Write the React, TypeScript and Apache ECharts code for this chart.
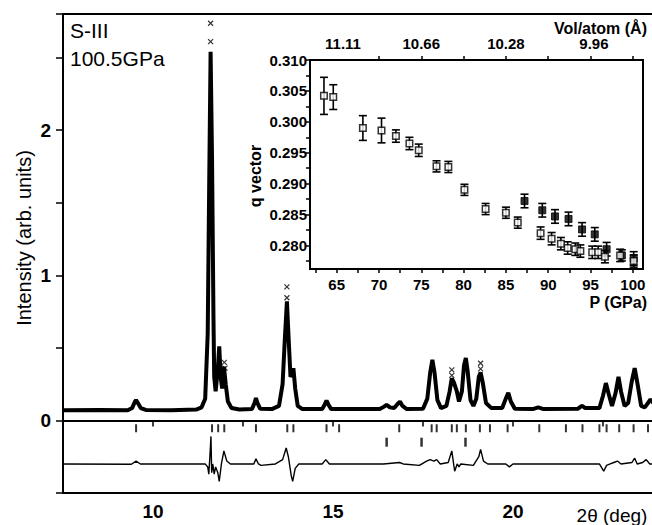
import React, { useEffect, useRef } from "react";
import * as echarts from "echarts";

// ---- Main pattern (2θ in degrees, intensity in arb. units) ----
const twoTheta = [
  7.5, 8.5, 9.3, 9.42, 9.5, 9.53, 9.58, 9.66, 9.8, 10.5, 11.2, 11.35, 11.45, 11.52, 11.56, 11.6, 11.64,
  11.68, 11.7, 11.74, 11.8, 11.84, 11.88, 11.92, 11.97, 12.02, 12.08, 12.18, 12.4, 12.75, 12.82, 12.86,
  12.9, 12.98, 13.3, 13.5, 13.6, 13.66, 13.72, 13.77, 13.82, 13.86, 13.9, 13.95, 14.02, 14.15, 14.7,
  14.77, 14.82, 14.87, 14.95, 16.3, 16.42, 16.49, 16.58, 16.7, 16.8, 16.86, 16.93, 17.05, 17.5, 17.62,
  17.7, 17.76, 17.82, 17.9, 18.0, 18.15, 18.24, 18.3, 18.36, 18.44, 18.5, 18.58, 18.64, 18.69, 18.74,
  18.82, 18.9, 18.98, 19.05, 19.1, 19.16, 19.25, 19.4, 19.7, 19.8, 19.87, 19.94, 20.05, 20.55, 20.7,
  20.85, 21.8, 21.88, 21.93, 22.0, 22.4, 22.5, 22.58, 22.66, 22.75, 22.85, 22.93, 23.0, 23.1, 23.2,
  23.3, 23.38, 23.46, 23.56, 23.66, 23.75, 23.82, 23.9, 24.0, 24.5,
];
const intensity = [
  0.07, 0.072, 0.07, 0.085, 0.13, 0.14, 0.12, 0.085, 0.072, 0.07, 0.075, 0.09, 0.15, 0.6, 1.6, 2.54, 1.8,
  0.7, 0.3, 0.2, 0.35, 0.51, 0.3, 0.22, 0.37, 0.25, 0.13, 0.085, 0.075, 0.078, 0.12, 0.154,
  0.12, 0.08, 0.078, 0.1, 0.25, 0.55, 0.82, 0.55, 0.3, 0.32, 0.36, 0.22, 0.1, 0.078, 0.078,
  0.11, 0.137, 0.11, 0.078, 0.078, 0.095, 0.108, 0.09, 0.085, 0.115, 0.13, 0.1, 0.078, 0.08, 0.15,
  0.33, 0.417, 0.33, 0.14, 0.085, 0.1, 0.2, 0.29, 0.26, 0.2, 0.13, 0.2, 0.38, 0.43, 0.34,
  0.14, 0.1, 0.15, 0.3, 0.33, 0.26, 0.12, 0.085, 0.085, 0.15, 0.19, 0.13, 0.08, 0.078, 0.09,
  0.078, 0.08, 0.095, 0.1, 0.085, 0.085, 0.17, 0.257, 0.18, 0.1, 0.19, 0.3, 0.2, 0.1, 0.12,
  0.27, 0.36, 0.25, 0.1, 0.09, 0.12, 0.145, 0.12, 0.09, 0.08,
];

// observed points standing clear above the fitted profile
const obsExtraTheta = [11.6, 11.6, 11.98, 12.0, 13.72, 13.72, 18.3, 18.3, 19.1, 19.1];
const obsExtraI = [2.736, 2.61, 0.4, 0.36, 0.92, 0.845, 0.348, 0.31, 0.394, 0.355];

// difference curve (offset)
const diffTheta = [
  7.5, 9.4, 9.53, 9.65, 11.45, 11.52, 11.55, 11.58, 11.61, 11.63, 11.66, 11.7, 11.74, 11.8, 11.84, 11.9,
  11.97, 12.05, 12.15, 12.8, 12.86, 12.93, 13.0, 13.4, 13.6, 13.7, 13.76, 13.84, 13.88, 13.95, 14.05,
  14.7, 14.8, 14.9, 15.5, 16.4, 16.85, 16.95, 17.4, 17.6, 17.7, 17.8, 17.88, 17.98, 18.2, 18.3, 18.38,
  18.45, 18.5, 18.55, 18.9, 19.05, 19.1, 19.18, 19.3, 19.8, 19.9, 20.0, 21.5, 22.4, 22.52, 22.6, 22.7,
  22.8, 22.9, 23.0, 23.3, 23.38, 23.45, 23.6, 23.7, 23.8, 24.5,
];
const diffI = [
  -0.3, -0.302, -0.28, -0.3, -0.3, -0.32, -0.37, -0.25, -0.11, -0.36, -0.3, -0.37, -0.32, -0.36, -0.42, -0.3,
  -0.21, -0.28, -0.3, -0.3, -0.265, -0.3, -0.31, -0.3, -0.27, -0.19, -0.25, -0.38, -0.42, -0.33, -0.3,
  -0.3, -0.27, -0.3, -0.3, -0.3, -0.29, -0.3, -0.31, -0.28, -0.27, -0.28, -0.27, -0.3, -0.29, -0.21, -0.35,
  -0.3, -0.32, -0.3, -0.31, -0.25, -0.2, -0.28, -0.3, -0.3, -0.32, -0.3, -0.3, -0.3, -0.35, -0.31, -0.3,
  -0.29, -0.28, -0.3, -0.29, -0.26, -0.3, -0.29, -0.27, -0.3, -0.3,
];

// reflection markers
const phase1Ticks = [
  9.53, 11.64, 11.81, 11.98, 12.86, 13.73, 13.9, 14.82, 15.17, 16.84, 17.74, 17.88, 18.3, 18.44, 18.69,
  19.08, 19.36, 19.85, 20.73, 21.47, 21.93, 22.4, 22.6, 22.95, 23.35, 23.75,
];
const phase2Ticks = [16.49, 17.46, 18.68];
const phase1Level = -0.054;
const phase2Level = -0.15;

// ---- Inset: q vector vs pressure ----
const pOpen = [63.5, 64.6, 68.1, 70.3, 72.0, 73.6, 74.7, 76.8, 78.2, 80.1, 82.6, 85.0, 86.4, 89.1, 90.4, 91.5, 92.3, 93.2, 93.8, 95.2, 95.9, 96.7, 98.5, 100.1];
const qOpen = [0.3042, 0.304, 0.299, 0.2986, 0.2977, 0.2965, 0.2954, 0.2928, 0.2927, 0.289, 0.2859, 0.2853, 0.2837, 0.282, 0.2811, 0.2803, 0.2796, 0.2794, 0.2791, 0.2789, 0.2789, 0.2782, 0.2784, 0.2775];
const errOpen = [0.003, 0.002, 0.002, 0.002, 0.001, 0.001, 0.001, 0.0009, 0.0009, 0.0009, 0.0009, 0.0009, 0.0009, 0.001, 0.001, 0.001, 0.001, 0.001, 0.001, 0.001, 0.001, 0.001, 0.001, 0.001];
const pFilled = [87.2, 89.3, 90.8, 92.4, 94.0, 95.5, 96.9, 98.7, 100.1];
const qFilled = [0.2872, 0.2857, 0.2847, 0.2843, 0.2826, 0.2818, 0.2794, 0.2784, 0.2779];
const errFilled = [0.0011, 0.0011, 0.0011, 0.0011, 0.0011, 0.0011, 0.0011, 0.0009, 0.0011];

const pTicks = [62.5, 65, 67.5, 70, 72.5, 75, 77.5, 80, 82.5, 85, 87.5, 90, 92.5, 95, 97.5, 100];
const pLabels = [65, 70, 75, 80, 85, 90, 95, 100];
const qTicks = [0.2775, 0.28, 0.2825, 0.285, 0.2875, 0.29, 0.2925, 0.295, 0.2975, 0.3, 0.3025, 0.305, 0.3075, 0.31];
const qLabels = [0.28, 0.285, 0.29, 0.295, 0.3, 0.305, 0.31];
const volTicks = [70, 75, 80, 85, 90, 95, 100];
const volLabels = ["11.11", "10.66", "10.28", "9.96"];
const volLabelPressures = [65.75, 75, 85, 95.4];

const FONT = "'Liberation Sans', Arial, Helvetica, sans-serif";

export default function App() {
  const ref = useRef<HTMLDivElement>(null);

  useEffect(() => {
    if (!ref.current) return;
    const chart = echarts.init(ref.current, null, { renderer: "svg" });

    const profile = twoTheta.map((t, i) => [t, intensity[i]]);
    const obsExtra = obsExtraTheta.map((t, i) => [t, obsExtraI[i]]);
    const diff = diffTheta.map((t, i) => [t, diffI[i]]);
    const ph1 = phase1Ticks.map((t) => [t, phase1Level]);
    const ph2 = phase2Ticks.map((t) => [t, phase2Level]);
    const openData = pOpen.map((p, i) => [p, qOpen[i], errOpen[i]]);
    const filledData = pFilled.map((p, i) => [p, qFilled[i], errFilled[i]]);

    const errRender = (params: any, api: any) => {
      const x = api.value(0);
      const y = api.value(1);
      const e = api.value(2);
      const top = api.coord([x, y + e]);
      const bot = api.coord([x, y - e]);
      const hw = 4;
      const st = { stroke: "#000", lineWidth: 1.6 };
      return {
        type: "group",
        children: [
          { type: "line", shape: { x1: top[0], y1: top[1], x2: bot[0], y2: bot[1] }, style: st },
          { type: "line", shape: { x1: top[0] - hw, y1: top[1], x2: top[0] + hw, y2: top[1] }, style: st },
          { type: "line", shape: { x1: bot[0] - hw, y1: bot[1], x2: bot[0] + hw, y2: bot[1] }, style: st },
        ],
      };
    };

    const mainLabel = { color: "#000", fontFamily: FONT, fontSize: 19, fontWeight: "bold" as const };
    const insetLabel = { color: "#000", fontFamily: FONT, fontSize: 15, fontWeight: "bold" as const };
    const near = (a: number, b: number) => Math.abs(a - b) < 1e-6;

    chart.setOption({
      animation: false,
      backgroundColor: "#fff",
      grid: [
        {
          left: 63, top: 14, width: 612, height: 479, show: true, borderColor: "#000", borderWidth: 2,
          backgroundColor: "transparent", outerBoundsMode: "none", containLabel: false,
        },
        {
          left: 310, top: 60, width: 333, height: 209, show: true, borderColor: "#000", borderWidth: 2,
          backgroundColor: "#fff", outerBoundsMode: "none", containLabel: false,
        },
      ],
      xAxis: [
        {
          gridIndex: 0,
          type: "value",
          min: 7.5,
          max: 24.5,
          interval: 2.5,
          axisLine: { lineStyle: { color: "#000", width: 2 } },
          axisTick: { length: 6, lineStyle: { color: "#000", width: 1.5 } },
          axisLabel: {
            ...mainLabel,
            margin: 9,
            formatter: (v: number) => (near(v % 5, 0) ? String(v) : ""),
          },
          splitLine: { show: false },
        },
        {
          gridIndex: 1,
          type: "value",
          min: 61.85,
          max: 101.2,
          axisLine: { lineStyle: { color: "#000", width: 2 } },
          axisTick: { length: 4, customValues: pTicks, lineStyle: { color: "#000", width: 1.5 } },
          axisLabel: { ...insetLabel, margin: 8, customValues: pLabels, formatter: (v: number) => String(v) },
          splitLine: { show: false },
        },
        {
          gridIndex: 1,
          type: "value",
          position: "top",
          min: 61.85,
          max: 101.2,
          axisLine: { lineStyle: { color: "#000", width: 2 } },
          axisTick: { length: 4, customValues: volTicks, lineStyle: { color: "#000", width: 1.5 } },
          axisLabel: {
            ...insetLabel,
            margin: 9,
            customValues: volLabelPressures,
            formatter: (v: number) => {
              const i = volLabelPressures.findIndex((p) => Math.abs(p - v) < 1e-6);
              return i >= 0 ? volLabels[i] : "";
            },
          },
          splitLine: { show: false },
        },
      ],
      yAxis: [
        {
          gridIndex: 0,
          type: "value",
          min: -0.5,
          max: 2.8,
          interval: 0.5,
          axisLine: { lineStyle: { color: "#000", width: 2 } },
          axisTick: { length: 7, lineStyle: { color: "#000", width: 1.5 } },
          axisLabel: {
            ...mainLabel,
            margin: 12,
            formatter: (v: number) => (near(v, Math.round(v)) ? String(Math.round(v)) : ""),
          },
          splitLine: { show: false },
        },
        {
          gridIndex: 1,
          type: "value",
          min: 0.2762,
          max: 0.31,
          axisLine: { lineStyle: { color: "#000", width: 2 } },
          axisTick: { length: 4, customValues: qTicks, lineStyle: { color: "#000", width: 1.5 } },
          axisLabel: { ...insetLabel, margin: 3, customValues: qLabels, formatter: (v: number) => v.toFixed(3) },
          splitLine: { show: false },
        },
      ],
      series: [
        {
          name: "profile",
          type: "line",
          xAxisIndex: 0,
          yAxisIndex: 0,
          data: profile,
          showSymbol: false,
          lineStyle: { color: "#000", width: 4 },
          z: 3,
        },
        {
          name: "observed",
          type: "scatter",
          xAxisIndex: 0,
          yAxisIndex: 0,
          data: obsExtra,
          symbol: "path://M0,0L10,10M10,0L0,10",
          symbolSize: 5,
          itemStyle: { color: "transparent", borderColor: "#000", borderWidth: 1.2 },
          z: 4,
        },
        {
          name: "difference",
          type: "line",
          xAxisIndex: 0,
          yAxisIndex: 0,
          data: diff,
          showSymbol: false,
          lineStyle: { color: "#000", width: 1.4 },
          z: 3,
        },
        {
          name: "phase1",
          type: "scatter",
          xAxisIndex: 0,
          yAxisIndex: 0,
          data: ph1,
          symbol: "rect",
          symbolSize: [2, 8],
          itemStyle: { color: "#000" },
        },
        {
          name: "phase2",
          type: "scatter",
          xAxisIndex: 0,
          yAxisIndex: 0,
          data: ph2,
          symbol: "rect",
          symbolSize: [2.5, 9],
          itemStyle: { color: "#000" },
        },
        {
          name: "errOpen",
          type: "custom",
          xAxisIndex: 1,
          yAxisIndex: 1,
          data: openData,
          encode: { x: 0, y: 1 },
          renderItem: errRender,
          z: 5,
        },
        {
          name: "errFilled",
          type: "custom",
          xAxisIndex: 1,
          yAxisIndex: 1,
          data: filledData,
          encode: { x: 0, y: 1 },
          renderItem: errRender,
          z: 5,
        },
        {
          name: "filled",
          type: "scatter",
          xAxisIndex: 1,
          yAxisIndex: 1,
          data: filledData,
          encode: { x: 0, y: 1 },
          symbol: "rect",
          symbolSize: 7,
          itemStyle: { color: "#000", borderColor: "#000", borderWidth: 1 },
          z: 6,
        },
        {
          name: "open",
          type: "scatter",
          xAxisIndex: 1,
          yAxisIndex: 1,
          data: openData,
          encode: { x: 0, y: 1 },
          symbol: "rect",
          symbolSize: 6.5,
          itemStyle: { color: "#fff", borderColor: "#000", borderWidth: 1.5 },
          z: 7,
        },
      ],
      graphic: [
        { type: "text", left: 70, top: 20, style: { text: "S-III", font: `21px ${FONT}`, fill: "#000" } },
        { type: "text", left: 70, top: 48, style: { text: "100.5GPa", font: `21px ${FONT}`, fill: "#000" } },
        {
          type: "text",
          x: 24,
          y: 238,
          rotation: Math.PI / 2,
          style: { text: "Intensity (arb. units)", font: `20px ${FONT}`, fill: "#000", align: "center", verticalAlign: "middle" },
        },
        {
          type: "text",
          x: 612,
          y: 515,
          style: { text: "2θ (deg)", font: `19px ${FONT}`, fill: "#000", align: "center", verticalAlign: "middle" },
        },
        {
          type: "text",
          x: 255,
          y: 176,
          rotation: Math.PI / 2,
          style: { text: "q vector", font: `bold 16px ${FONT}`, fill: "#000", align: "center", verticalAlign: "middle" },
        },
        {
          type: "text",
          x: 647,
          y: 302,
          style: { text: "P (GPa)", font: `bold 16px ${FONT}`, fill: "#000", align: "right", verticalAlign: "middle" },
        },
        {
          type: "text",
          x: 647,
          y: 28,
          style: { text: "Vol/atom (Å)", font: `bold 16px ${FONT}`, fill: "#000", align: "right", verticalAlign: "middle" },
        },
      ],
    });

    return () => chart.dispose();
  }, []);

  return <div ref={ref} style={{ width: 652, height: 525, position: "absolute", left: 0, top: 0 }} />;
}
